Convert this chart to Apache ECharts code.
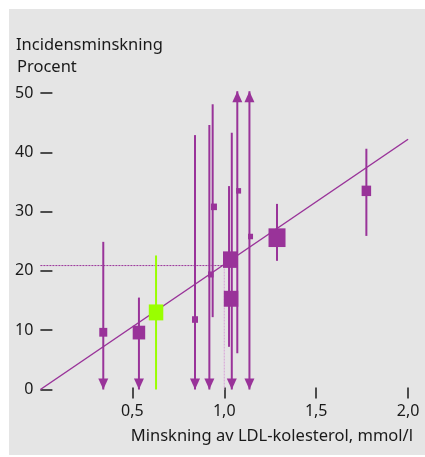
<!DOCTYPE html>
<html>
<head>
<meta charset="utf-8">
<script src="https://cdn.jsdelivr.net/npm/echarts@6/dist/echarts.min.js"></script>
<style>
html, body { margin: 0; padding: 0; background: #fff; }
#chart { width: 425px; height: 457px; }
</style>
</head>
<body>
<div id="chart"></div>
<script>
// studier: minskning av LDL (mmol/l) mot incidensminskning (%)
var studyX = [0.342, 0.536, 0.629, 0.841, 0.927, 0.944, 1.034, 1.037, 1.078, 1.143, 1.287, 1.773];
var studyY = [9.65, 9.6, 13.0, 11.8, 19.4, 30.8, 21.9, 15.3, 33.5, 25.8, 25.6, 33.5];
var weight = [1.6, 2.5, 2.9, 1.2, 1.1, 1.2, 3.0, 2.9, 1.0, 1.0, 3.4, 1.9];
var isNew = [0, 0, 1, 0, 0, 0, 0, 0, 0, 0, 0, 0];

// konfidensintervall (pil = går utanför skalan)
var barX = [0.342, 0.536, 0.629, 0.841, 0.919, 0.937, 1.026, 1.041, 1.071, 1.137, 1.287, 1.773];
var barLow = [0, 0, 0, 0, 0, 12.2, 7.2, 0, 6.1, 0, 21.7, 25.9];
var barHigh = [24.9, 15.5, 22.6, 42.9, 44.6, 48.1, 34.3, 43.3, 50.3, 50.3, 31.3, 40.6];
var arrowDown = [1, 1, 0, 1, 1, 0, 0, 1, 0, 1, 0, 0];
var arrowUp = [0, 0, 0, 0, 0, 0, 0, 0, 1, 1, 0, 0];

// regressionslinje och referens vid 1,0 mmol/l
var fitX = [0, 2.0];
var fitY = [0, 42.2];
var refX = 1.0;
var refY = 20.9;

var xTicks = [0.5, 1.0, 1.5, 2.0];

var purple = '#993399';
var green = '#99ff00';
var font = '"Noto Sans", sans-serif';

var chart = echarts.init(document.getElementById('chart'));

var bars = [];
var points = [];
for (var i = 0; i < barX.length; i++) {
	bars.push([barX[i], barLow[i], barHigh[i], arrowDown[i], arrowUp[i], isNew[i]]);
	points.push([studyX[i], studyY[i], weight[i], isNew[i]]);
}

var option = {
	backgroundColor: '#fff',
	animation: false,
	grid: {
		left: 40.4,
		right: 16.9,
		top: 93,
		bottom: 67.5
	},
	graphic: [
		{
			type: 'rect',
			left: 9, top: 9, z: -10,
			shape: { width: 416, height: 446 },
			style: { fill: '#e5e5e5' }
		},
		{
			type: 'text',
			left: 16, top: 37,
			style: { text: 'Incidensminskning', font: '16.5px ' + font, fill: '#1a1a1a' }
		},
		{
			type: 'text',
			left: 17, top: 59,
			style: { text: 'Procent', font: '16.5px ' + font, fill: '#1a1a1a' }
		},
		{
			type: 'text',
			right: 12, top: 428,
			style: { text: 'Minskning av LDL-kolesterol, mmol/l', font: '16.5px ' + font, fill: '#1a1a1a' }
		}
	],
	xAxis: {
		type: 'value',
		min: 0,
		max: 2.0,
		interval: 0.5,
		offset: -2,
		splitLine: { show: false },
		axisLine: { show: false },
		axisTick: {
			show: true,
			length: 11,
			customValues: xTicks,
			lineStyle: { color: '#1a1a1a', width: 1.5 }
		},
		axisLabel: {
			customValues: xTicks,
			margin: 16,
			color: '#1a1a1a',
			fontSize: 16,
			fontFamily: font,
			formatter: function(v) { return v.toFixed(1).replace('.', ','); }
		}
	},
	yAxis: {
		type: 'value',
		min: 0,
		max: 50,
		interval: 10,
		splitLine: { show: false },
		axisLine: { show: false },
		axisTick: {
			show: true,
			inside: true,
			length: 12,
			lineStyle: { color: '#1a1a1a', width: 1.5 }
		},
		axisLabel: {
			margin: 7,
			color: '#1a1a1a',
			fontSize: 16,
			fontFamily: font
		}
	},
	series: [
		{
			type: 'line',
			data: [[0, refY], [refX, refY]],
			symbol: 'none',
			lineStyle: { color: purple, width: 1, type: [2, 1] },
			z: 1
		},
		{
			type: 'line',
			data: [[refX, refY], [refX, 0]],
			symbol: 'none',
			lineStyle: { color: '#d8a0d8', width: 1, type: [2, 1] },
			z: 1
		},
		{
			type: 'line',
			data: fitX.map(function(x, i) { return [x, fitY[i]]; }),
			symbol: 'none',
			lineStyle: { color: purple, width: 1.5 },
			z: 2
		},
		{
			type: 'custom',
			clip: false,
			z: 3,
			data: bars,
			renderItem: function(params, api) {
				var x = api.value(0);
				var lo = api.coord([x, api.value(1)]);
				var hi = api.coord([x, api.value(2)]);
				var col = api.value(5) ? green : purple;
				var children = [{
					type: 'line',
					shape: { x1: lo[0], y1: lo[1], x2: hi[0], y2: hi[1] },
					style: { stroke: col, lineWidth: 2 }
				}];
				if (api.value(3)) {
					children.push({
						type: 'polygon',
						shape: { points: [[lo[0] - 5, lo[1] - 11], [lo[0] + 5, lo[1] - 11], [lo[0], lo[1]]] },
						style: { fill: col }
					});
				}
				if (api.value(4)) {
					children.push({
						type: 'polygon',
						shape: { points: [[hi[0] - 5, hi[1] + 11], [hi[0] + 5, hi[1] + 11], [hi[0], hi[1]]] },
						style: { fill: col }
					});
				}
				return { type: 'group', children: children };
			}
		},
		{
			type: 'scatter',
			data: points,
			symbol: 'rect',
			z: 4,
			symbolSize: function(v) { return [v[2] * 5, v[2] * 5.5]; },
			itemStyle: {
				opacity: 1,
				color: function(p) { return p.data[3] ? green : purple; }
			}
		}
	]
};

chart.setOption(option);
</script>
</body>
</html>
